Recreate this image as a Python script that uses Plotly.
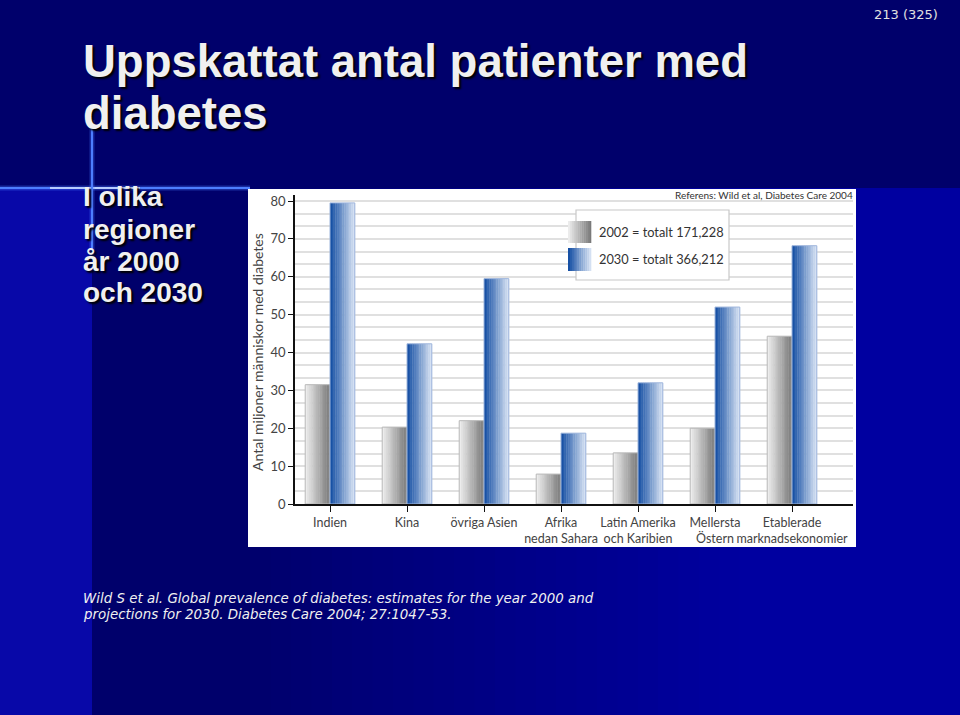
import plotly.graph_objects as go

# ---------------- data ----------------
categories = ["Indien", "Kina", "övriga Asien", "Afrika<br>nedan Sahara",
              "Latin Amerika<br>och Karibien", "Mellersta<br>Östern",
              "Etablerade<br>marknadsekonomier"]
values_2002 = [31.5, 20.3, 22.0, 7.9, 13.5, 20.0, 44.3]
values_2030 = [79.5, 42.3, 59.5, 18.7, 32.0, 52.0, 68.2]
series_names = ["2002 = totalt 171,228", "2030 = totalt 366,212"]
y_ticks = [0, 10, 20, 30, 40, 50, 60, 70, 80]

W, H = 960, 715
def PX(x): return x / W
def PY(y): return 1 - y / H

def lerp_color(c1, c2, t):
    a = [int(c1[i:i+2], 16) for i in (1, 3, 5)]
    b = [int(c2[i:i+2], 16) for i in (1, 3, 5)]
    return "rgb(%d,%d,%d)" % tuple(round(a[k] + (b[k] - a[k]) * t) for k in range(3))

CHART_FONT = "Lato"
fig = go.Figure()

bar_w = 0.322
N = 14
gray_l, gray_r = "#ececec", "#7a7a7a"
blue_l, blue_r = "#1650a4", "#d4e0f2"

for vals, off0, cl, cr, edge in [(values_2002, -bar_w, gray_l, gray_r, "#b8b8b8"),
                                 (values_2030, 0.0, blue_l, blue_r, "#9fb6dc")]:
    for i in range(N):
        t = i / (N - 1)
        fig.add_trace(go.Bar(
            x=categories, y=vals, width=bar_w / N * 1.2,
            offset=off0 + i * bar_w / N,
            marker=dict(color=lerp_color(cl, cr, t), line=dict(width=0)),
            showlegend=False, hoverinfo="skip"))
    fig.add_trace(go.Bar(
        x=categories, y=vals, width=bar_w, offset=off0,
        marker=dict(color="rgba(0,0,0,0)", line=dict(color=edge, width=1)),
        showlegend=False, hoverinfo="skip"))

# ---------------- background shapes ----------------
shapes = []
navy_dark = "#00006b"
navy_bright = "#0000a0"
shapes.append(dict(type="rect", xref="paper", yref="paper", x0=0, x1=1, y0=0, y1=1,
                   fillcolor=navy_dark, line_width=0, layer="below"))
steps = 25
gx0, gx1 = 250, 760
for i in range(steps):
    xa = gx0 + (gx1 - gx0) * i / steps
    shapes.append(dict(type="rect", xref="paper", yref="paper",
                       x0=PX(xa), x1=1, y0=0, y1=PY(188),
                       fillcolor=lerp_color(navy_dark, navy_bright, (i + 1) / steps),
                       line_width=0, layer="below"))
shapes.append(dict(type="rect", xref="paper", yref="paper", x0=0, x1=PX(92), y0=0, y1=PY(188),
                   fillcolor="#0808a8", line_width=0, layer="below"))
# crosshair glow
shapes.append(dict(type="line", xref="paper", yref="paper", x0=0, x1=PX(250), y0=PY(188), y1=PY(188),
                   line=dict(color="rgba(70,120,255,0.35)", width=5), layer="below"))
shapes.append(dict(type="line", xref="paper", yref="paper", x0=0, x1=PX(250), y0=PY(188), y1=PY(188),
                   line=dict(color="#4d7dff", width=2), layer="below"))
shapes.append(dict(type="line", xref="paper", yref="paper", x0=PX(50), x1=PX(140), y0=PY(188), y1=PY(188),
                   line=dict(color="#b8ccff", width=2), layer="below"))
shapes.append(dict(type="line", xref="paper", yref="paper", x0=PX(92), x1=PX(92), y0=PY(120), y1=PY(260),
                   line=dict(color="rgba(70,120,255,0.35)", width=5), layer="below"))
shapes.append(dict(type="line", xref="paper", yref="paper", x0=PX(92), x1=PX(92), y0=PY(125), y1=PY(250),
                   line=dict(color="#4d7dff", width=2), layer="below"))
# white chart panel
shapes.append(dict(type="rect", xref="paper", yref="paper", x0=PX(248), x1=PX(856), y0=PY(547), y1=PY(189),
                   fillcolor="white", line_width=0, layer="below"))

# legend box
shapes.append(dict(type="rect", xref="paper", yref="paper", x0=PX(576), x1=PX(729), y0=PY(280), y1=PY(210),
                   fillcolor="white", line=dict(color="#c8c8c8", width=1.2), layer="above"))
for (y0, y1), cl, cr in [((221, 243), gray_l, gray_r), ((248, 271), blue_l, blue_r)]:
    n = 12
    for i in range(n):
        xa = 568 + 23 * i / n
        xb = 568 + 23 * (i + 1) / n
        shapes.append(dict(type="rect", xref="paper", yref="paper", x0=PX(xa), x1=PX(xb + 0.3),
                           y0=PY(y1), y1=PY(y0), fillcolor=lerp_color(cl, cr, i / (n - 1)),
                           line_width=0, layer="above"))

annotations = []
for txt, yc in zip(series_names, [232, 259]):
    annotations.append(dict(text=txt, xref="paper", yref="paper", x=PX(597), y=PY(yc),
                            xanchor="left", yanchor="middle", showarrow=False,
                            font=dict(family=CHART_FONT, size=12.8, color="#333333")))
annotations.append(dict(text="Referens: Wild et al, Diabetes Care 2004", xref="paper", yref="paper",
                        x=PX(855), y=PY(195), xanchor="right", yanchor="middle", showarrow=False,
                        font=dict(family=CHART_FONT, size=10, color="#333333")))
annotations.append(dict(text="Antal miljoner människor med diabetes", xref="paper", yref="paper",
                        x=PX(257), y=PY(352), xanchor="center", yanchor="middle", textangle=-90,
                        showarrow=False, font=dict(family=CHART_FONT, size=14, color="#444444")))
shadow = "2px 2px 2px #000000"
for line, yc in [("Uppskattat antal patienter med", 62), ("diabetes", 113)]:
    annotations.append(dict(text="<b>%s</b>" % line, xref="paper", yref="paper", x=PX(81), y=PY(yc),
                            xanchor="left", yanchor="middle", showarrow=False,
                            font=dict(family="Liberation Sans", size=45.5, color="#f0f0f0", shadow=shadow)))
for line, yc in [("I olika", 197), ("regioner", 229), ("år 2000", 261), ("och 2030", 293)]:
    annotations.append(dict(text="<b>%s</b>" % line, xref="paper", yref="paper", x=PX(81), y=PY(yc),
                            xanchor="left", yanchor="middle", showarrow=False,
                            font=dict(family="Liberation Sans", size=28, color="#f0f0f0", shadow=shadow)))
annotations.append(dict(text="213 (325)", xref="paper", yref="paper", x=PX(940), y=PY(15),
                        xanchor="right", yanchor="middle", showarrow=False,
                        font=dict(family="DejaVu Sans", size=13, color="#e0e0e0")))
for line, yc in [("Wild S et al. Global prevalence of diabetes: estimates for the year 2000 and", 598),
                 ("projections for 2030. Diabetes Care 2004; 27:1047-53.", 614)]:
    annotations.append(dict(text="<i>%s</i>" % line, xref="paper", yref="paper", x=PX(81), y=PY(yc),
                            xanchor="left", yanchor="middle", showarrow=False,
                            font=dict(family="DejaVu Sans", size=13.4, color="#f0f0f0")))

# axes geometry
x0_cat = 330.0
slot = 77.0
x_range = [(295 - x0_cat) / slot, (853 - x0_cat) / slot]
y_bottom, y_top = 504, 195
px_per_unit = (504 - 201) / 80
y_range = [0, (y_bottom - y_top) / px_per_unit]

fig.update_layout(
    width=W, height=H,
    margin=dict(l=0, r=0, t=0, b=0, autoexpand=False),
    paper_bgcolor=navy_dark,
    plot_bgcolor="white",
    barmode="overlay",
    showlegend=False,
    shapes=shapes,
    annotations=annotations,
    xaxis=dict(domain=[PX(295), PX(853)], range=x_range, type="category",
               automargin=False, tickangle=0,
               showline=True, linecolor="#111111", linewidth=1.5,
               ticks="outside", ticklen=6, tickcolor="#111111", tickwidth=1.2,
               showgrid=False, zeroline=False,
               tickfont=dict(family=CHART_FONT, size=12.5, color="#444444")),
    yaxis=dict(domain=[PY(y_bottom), PY(y_top)], range=y_range, automargin=False,
               tickvals=y_ticks, ticks="outside", ticklen=5, tickcolor="#111111", tickwidth=1.2,
               showline=True, linecolor="#111111", linewidth=1.5,
               showgrid=True, gridcolor="#e0e0e0", gridwidth=1.5, zeroline=False,
               minor=dict(dtick=10 / 3, tick0=0, showgrid=True, gridcolor="#e0e0e0", gridwidth=1.5),
               tickfont=dict(family=CHART_FONT, size=13, color="#444444")),
)

fig.write_html("out.html")
